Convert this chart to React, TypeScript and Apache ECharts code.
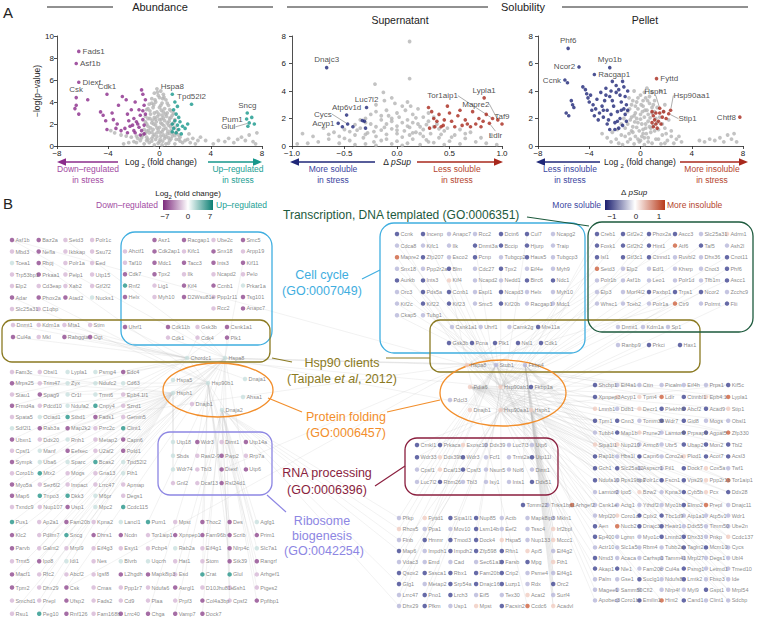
import React, { useEffect, useRef } from "react";
import * as echarts from "echarts";

const F = "Liberation Sans, Arial, Helvetica, sans-serif";

// ---------------- Panel A data ----------------
const abundanceGray: number[][] = [
  [-0.2,5.2],[0.1,5.0],[-0.4,4.8],[0.3,4.7],[0.0,4.4],[-0.6,4.3],[0.5,4.2],[-0.3,4.0],[0.2,3.9],[-0.8,3.8],[0.7,3.7],[-0.5,3.5],[0.0,3.5],[0.4,3.4],[-1.0,3.3],[0.9,3.2],[-0.2,3.1],[0.6,3.0],[-0.7,2.9],[0.2,2.8],[1.0,2.8],[-0.4,2.6],[0.8,2.5],[-0.9,2.5],[0.0,2.4],[0.4,2.3],[-1.1,2.2],[-0.6,2.1],[1.1,2.1],[0.2,2.0],[-0.3,1.9],[0.7,1.9],[-0.9,1.8],[0.0,1.7],[1.2,1.7],[0.5,1.6],[-0.5,1.5],[-1.2,1.5],[0.9,1.4],[0.2,1.3],[-0.8,1.2],[-0.2,1.2],[1.3,1.2],[0.6,1.1],[-1.3,1.0],[-0.5,0.9],[0.1,0.9],[1.0,0.9],[1.6,0.8],[-1.0,0.8],[-1.7,0.7],[0.4,0.7],[-0.3,0.6],[1.3,0.6],[2.0,0.5],[-1.5,0.5],[0.8,0.5],[-2.0,0.4],[0.0,0.4],[-0.8,0.3],[1.8,0.3],[2.4,0.3],[-2.4,0.3],[0.5,0.2],[-1.2,0.2],[1.2,0.2],[-0.4,0.1],[0.2,0.1],[2.8,0.2],[-2.8,0.2],[3.0,0.5],
  [-0.1,4.6],[0.35,4.45],[-0.45,3.75],[0.15,3.25],[-0.75,3.2],[0.55,2.7],[-0.15,2.7],[0.3,2.55],[-0.55,2.35],[0.75,2.25],[-0.25,2.2],[0.95,1.95],[-0.7,1.65],[0.35,1.85],[-0.1,1.45],[0.65,1.35],[-1.0,1.35],[1.05,1.15],[-0.4,1.05],[0.3,1.0],[-0.9,0.6],[0.7,0.75],[1.5,1.0],[-1.4,0.75],[0.05,0.6],[-0.6,0.45],
  [-0.15,4.9],[0.25,4.3],[-0.35,4.2],[0.6,3.9],[-0.6,3.9],[0.1,3.7],[-0.9,3.4],[0.8,3.3],[0.3,3.1],[-0.4,3.0],[1.1,3.0],[-1.1,2.7],[0.45,2.9],[-0.05,2.9],[0.9,2.6],[-0.75,2.5],[0.15,2.45],[-0.3,2.45],[1.2,2.4],[0.6,2.1],[-0.45,2.0],[-1.0,2.0],[0.1,2.1],[0.85,1.75],[-0.2,1.65],[0.3,1.5],[1.4,1.45],[-0.85,1.45],[0.05,1.2],[-0.6,1.25],[0.8,1.15],[-1.1,1.15],[1.2,0.95],[-0.2,0.85],[0.5,0.85],[-1.4,0.95],[0.9,0.65],[-0.6,0.7],[0.25,0.45],[1.6,0.45],[-1.0,0.5],[-1.8,0.3],[0.7,0.25],[-0.1,0.25],[1.5,0.6],[2.2,0.6],
  [-3.5,1.2],[-3.0,1.0],[-2.6,0.9],[-2.2,0.8],[-1.8,0.9],[-3.8,1.4],
  [2.3,1.1],[2.6,0.7],[3.2,0.8],[3.6,0.5],[4.2,0.2],[4.6,0.5],[5.1,0.4],[5.4,0.7],[5.8,0.3],[6.1,0.6],[6.4,0.8],[6.7,0.5],[7.0,1.0],[7.3,0.4],[7.6,1.2],[7.5,0.2]
];
const abundanceDown: number[][] = [
  [-6.5,3.7],[-6.6,3.4],[-6.3,2.9],[-5.6,4.2],[-4.6,3.1],[-4.4,2.8],[-4.2,2.3],[-4.1,1.5],[-3.7,3.0],[-3.6,2.4],[-3.3,2.0],[-3.2,3.7],[-2.9,4.5],[-2.6,4.2],[-2.5,2.9],[-2.2,3.3],[-2.0,2.5],[-1.9,4.0],[-1.6,3.3],[-1.4,5.1],[-1.3,4.7],[-1.2,3.7],[-1.5,2.8],[-1.8,2.2],[-2.3,1.8],[-2.7,1.6],[-3.0,1.4],[-1.3,2.4],[-1.6,1.7],[-2.0,1.4],[-1.2,1.9],[-1.4,1.4],[-2.4,2.3],[-1.1,2.9],[-1.7,2.0],[-2.1,1.9],[-1.9,1.2],[-1.2,1.1],[-1.5,1.0],[-2.5,1.2],[-3.4,1.6],[-1.1,4.2],[-1.3,3.2]
];
const abundanceDownLabeled: [string, number, number][] = [
  ["Fads1",-6.3,8.6],["Asf1b",-6.5,7.5],["Diexf",-6.3,5.8],["Csk",-6.5,4.4],["Cdk1",-4.1,4.7]
];
const abundanceUp: number[][] = [
  [1.1,3.3],[1.3,2.9],[1.5,2.6],[1.2,2.3],[1.6,2.2],[1.0,2.0],[1.4,1.9],[1.8,1.8],[1.1,1.6],[1.5,1.5],[2.0,1.6],[1.3,1.2],[1.7,1.1],[1.2,4.0],[1.4,3.6],[2.2,2.0],[1.0,1.3],[7.2,2.6],[6.9,1.8],[7.4,2.0]
];
const abundanceUpLabeled: [string, number, number][] = [
  ["Hspa8",1.0,4.7],["Tpd52l2",2.5,3.8],["Sncg",6.85,3.0],["Pum1",6.8,2.45],["Glul",7.0,2.1]
];

const supernatantGray: number[][] = [
  [0.12,7.6],[0.12,4.9],[-0.21,4.5],[-0.13,3.9],[-0.05,3.5],[0.1,3.2],[-0.2,3.0],[0.05,2.9],[0.2,2.7],[-0.1,2.6],[0.0,2.4],[0.15,2.3],[-0.25,2.3],[0.25,2.1],[-0.05,2.0],[0.1,1.9],[-0.15,1.9],[0.3,1.8],[0.05,1.7],[-0.3,1.7],[-0.1,1.6],[0.2,1.6],[0.0,1.45],[-0.2,1.4],[0.12,1.35],[0.35,1.4],[-0.35,1.3],[-0.05,1.25],[0.25,1.2],[-0.15,1.15],[0.07,1.1],[0.45,1.1],[-0.45,1.05],[0.18,1.0],[-0.28,0.95],[0.0,0.9],[0.32,0.9],[-0.1,0.85],[0.12,0.8],[-0.4,0.8],[0.55,0.8],[0.25,0.7],[-0.2,0.7],[-0.55,0.7],[0.05,0.65],[0.4,0.6],[-0.32,0.6],[0.65,0.55],[-0.65,0.5],[0.15,0.5],[-0.1,0.5],[0.28,0.45],[-0.45,0.4],[0.5,0.35],[0.0,0.35],[-0.22,0.3],[0.75,0.3],[-0.75,0.3],[0.35,0.25],[-0.55,0.2],[0.1,0.2],[0.6,0.15],[-0.3,0.15],[0.85,0.2],[-0.85,0.2],[0.95,0.1],[-0.95,0.15],[-0.6,1.0],[0.6,1.2],[-0.7,1.3],[0.7,1.0],[-0.8,0.7],[0.8,0.6],[-0.9,0.9],[0.9,0.8],[-0.15,2.2],[0.08,2.6],[-0.3,2.0],[0.22,1.4],[-0.05,1.8],[0.38,1.6],[-0.4,1.55],[0.15,0.95],[-0.22,1.05],[0.42,0.85],[-0.05,0.15],[0.22,0.1],[-0.4,0.1],[0.48,1.3],[-0.5,1.2],[-0.02,3.1],[0.3,2.4],[-0.12,3.3],
  [-0.08,2.2],[0.18,2.05],[-0.25,1.6],[0.28,1.55],[-0.12,1.35],[0.4,1.25],[-0.38,1.15],[0.1,1.45],[0.0,1.15],[-0.3,0.85],[0.22,0.9],[0.52,0.65],[-0.5,0.55],[-0.15,0.4],[0.3,0.3],[0.65,0.9],[-0.65,0.85],[0.05,0.05],[-0.2,0.05],[0.45,0.1],[0.15,1.7],[-0.2,2.5],[0.35,2.1],[-0.35,1.9],[0.02,2.1],[0.13,2.9]
];
const supernatantMore: number[][] = [
  [-0.52,1.4],[-0.42,1.4],[-0.33,1.85],[-0.31,1.8],[-0.3,1.3]
];
const supernatantMoreLabeled: [string, number, number][] = [
  ["Dnajc3",-0.67,5.7],["Luc7l2",-0.29,2.8],["Atp6v1d",-0.48,2.25],["Cycs",-0.47,1.6],["Acyp1",-0.56,1.65]
];
const supernatantLess: number[][] = [
  [0.3,2.8],[0.33,2.5],[0.35,2.0],[0.38,1.8],[0.4,2.3],[0.42,1.4],[0.45,1.9],[0.48,2.9],[0.5,2.4],[0.52,1.8],[0.55,1.4],[0.58,2.2],[0.6,2.6],[0.62,1.5],[0.65,1.9],[0.7,1.4],[0.72,2.5],[0.75,1.6],[0.78,2.0],[0.8,1.4],[0.82,1.8],[0.85,2.3],[0.31,1.3],[0.36,1.4],[0.44,1.5],[0.67,1.6]
];
const supernatantLessLabeled: [string, number, number][] = [
  ["Lypla1",0.83,3.5],["Tor1aip1",0.91,2.0],["Mapre2",0.96,1.9],["Taf9",1.0,1.6],["Ldlr",0.88,1.65]
];

const pelletGray: number[][] = [
  [0.5,4.2],[-0.5,4.0],[0.9,3.9],[0.0,3.7],[-0.9,3.5],[0.4,3.5],[1.1,3.3],[-0.3,3.2],[0.7,3.1],[-0.7,3.0],[0.2,2.9],[1.3,2.8],[-0.2,2.7],[0.5,2.6],[-1.0,2.5],[0.9,2.4],[0.0,2.3],[-0.5,2.2],[0.3,2.1],[1.2,2.0],[-0.8,1.9],[0.6,1.8],[-0.2,1.7],[0.1,1.6],[1.0,1.5],[-0.6,1.4],[-1.2,1.3],[0.4,1.3],[1.4,1.2],[-0.1,1.1],[0.8,1.0],[-0.9,0.9],[0.2,0.9],[1.7,0.8],[-1.5,0.8],[-0.4,0.7],[0.6,0.6],[-1.9,0.5],[1.2,0.5],[2.1,0.4],[0.0,0.4],[-1.0,0.3],[-2.3,0.3],[0.9,0.2],[2.6,0.2],[-0.5,0.15],[0.3,0.1],[1.6,0.15],[-1.4,0.1],[2.0,0.9],[2.4,0.7],[2.8,0.5],[3.2,0.3],[-2.6,0.6],[-3.0,0.9],[-2.2,1.0],[-1.8,1.2],[-1.5,1.6],[-1.3,2.0],[0.7,3.6],[0.2,3.3],[-0.4,2.9],[0.9,2.8],[0.6,2.3],[-0.3,2.0],[0.8,1.3],[-0.7,1.1],[0.3,0.6],[-0.2,0.5],[1.5,2.1],[1.7,1.6],[1.9,1.3],[2.2,1.9],[1.8,2.5],[4.6,0.4],[5.0,0.3],[5.4,0.5],[5.8,0.4],[6.2,0.6],[6.5,0.3],[6.8,0.8],[7.1,0.5],[7.3,0.9],[7.5,0.3],[1.6,4.0],[1.9,3.0],[2.4,1.1],[3.0,0.7],
  [0.3,3.9],[-0.2,3.5],[0.55,3.3],[-0.6,3.3],[1.0,3.0],[0.05,3.0],[-0.85,2.7],[0.35,2.6],[1.1,2.5],[-0.4,2.4],[0.15,2.5],[0.75,2.05],[-0.7,2.1],[0.0,1.95],[1.3,1.7],[-0.45,1.75],[0.4,1.6],[-1.0,1.6],[0.7,1.4],[-0.3,1.35],[0.2,1.2],[1.1,1.1],[-0.6,1.0],[0.45,0.9],[-1.2,0.7],[0.1,0.7],[1.4,0.5],[-0.8,0.5],[0.6,0.3],[-0.1,0.3],[1.9,0.2],[-1.7,0.2]
];
const pelletLess: number[][] = [
  [-5.7,4.6],[-5.4,3.3],[-5.3,3.0],[-5.2,2.8],[-5.8,2.4],[-5.6,2.2],[-4.5,4.3],[-4.3,4.1],[-4.2,3.8],[-4.1,3.5],[-4.0,3.2],[-3.9,3.7],[-3.7,3.0],[-3.5,2.7],[-3.4,3.4],[-3.2,2.4],[-3.1,3.9],[-3.0,2.9],[-2.9,2.1],[-2.8,3.3],[-2.7,4.2],[-2.6,2.6],[-2.5,1.9],[-2.4,3.6],[-2.3,2.3],[-2.2,4.7],[-2.1,2.9],[-2.0,1.7],[-1.9,3.9],[-1.8,2.5],[-1.7,4.1],[-1.6,2.0],[-1.5,3.2],[-1.4,4.7],[-1.3,2.7],[-1.2,3.6],[-1.1,1.8],[-1.0,4.0],[-1.4,1.5],[-1.7,1.3],[-2.0,1.2],[-1.2,2.3],[-1.6,3.7],[-2.6,1.6],[-3.3,1.9],[-2.2,3.3],[-1.9,4.4],[-3.6,2.2],[-2.9,2.6],[-2.4,1.2],[-1.1,3.0],[-1.5,2.6],[-1.8,1.8],[-2.3,4.0],[-3.8,2.6],[-1.3,4.3],[-1.0,2.6],[-2.7,3.7]
];
const pelletLessLabeled: [string, number, number][] = [
  ["Phf6",-5.65,7.1],["Ncor2",-4.8,5.75],["Ccnk",-5.9,4.8],["Myo1b",-2.4,5.7],["Racgap1",-3.6,5.2]
];
const pelletMore: number[][] = [
  [0.9,2.5],[1.0,2.2],[1.2,2.4],[1.5,2.4],[1.7,2.1],[1.1,1.9],[1.4,1.8],[0.9,1.7],[1.2,1.6],[1.6,1.6],[1.0,1.4],[1.3,1.3],[1.8,2.5],[2.0,2.0]
];
const pelletMoreLabeled: [string, number, number][] = [
  ["Fyttd",1.25,4.9],["Hsph1",1.5,2.75],["Hsp90aa1",2.35,2.6],["Stip1",2.2,2.35],["Chtf8",7.75,2.1]
];

// ---------------- Panel B data (names + colour codes) ----------------
const abundanceCodeValue: Record<string, number> = { D: -4.2, d: -2.2, g: 2.0, T: 5.0 };
const solubilityCodeValue: Record<string, number> = { B: -0.62, b: -0.33, r: 0.3, R: 0.68 };

const leftTopNames = [
  ["Asf1b","Baz2a","Setd3","Polr1c"],["Mbd3","Nefla","Ikbkap","Ssu72"],["Tcea1","Rbpj","Polr1a","Eed"],
  ["Trp53bp1","Prkaa1","Pelp1","Utp15"],["Elp2","Cd3eap","Xab2","Gtf2f2"],["Adar","Phox2a","Atad2","Nucks1"],["Slc25a31","C1qbp"]
];
const leftTopCodes = ["DDdd","dDdd","gDdd","dDdd","dddd","DDDg","dd"];
const cellCycleLNames = [
  ["","Asz1","Racgap1","Ube2c","Smc5"],["Ahctf1","Cdk2ap1","Kifc1","Snx18","Arpp19"],["Taf10","Mdc1","Tacc3","Ints3","Kif11"],
  ["Cdk7","Tpx2","Ilk","Ncapd2","Pelo"],["Rnf2","Lig1","Kif4","Ccnb1","Prkar1a"],["Helx","Myh10","D2Wsu81e","Ppp1r11","Tsg101"],["","","","Rcc2","Anapc7"]
];
const cellCycleLCodes = [" DDdD","dDdDd","dDDDD","DDddd","TdDDg","DdDdD","   dD"];
const uhrfLNames = [["Uhrf1"]];
const uhrfLCodes = ["D"];
const cdkLNames = [["Cdk11b","Gsk3b","Csnk1a1"],["Cdk1","Cdk4","Plk1"]];
const cdkLCodes = ["DdD","ddD"];
const oliveLNames = [["Dnmt1","Kdm1a","Mta1","Stim"],["Cul4a","Mkl","Rabggta","Ogt"]];
const oliveLCodes = ["dddd","DdDD"];
const hspLNames = [["Chordc1","Hspa8"]];
const hspLCodes = ["gg"];
const foldLNames = [["Hspa5","Hsp90b1","Dnaja1","Hsph1","Ahsa1","Dnajb1","Dnaja2"]];
const foldLCodes = ["gggggdg"];
const leftBigNames = [
  ["Fam3c","Obsl1","Lypla1","Psmg4","Edc4"],["Mrps25","Trim47","Zyx","Ndufc2","Cd63"],["Stau1","Spag9","Cr1l","Trmt6","Epb4.1l1"],
  ["Frmd4a","Pdcd10","Ndufa2","Cnpy4","Szrd1"],["Spata5","Ociad1","Stbd1","Fads1","Gemin5"],["Sdf2l1","Rab3a","Map2k2","Prrc2c","Clint1"],
  ["Ubxn1","Ddx20","Rnh1","Metap2","Capn6"],["Cpsf1","Manf","Eefsec","U2af2","Pold1"],["Sympk","Uba6","Sparc","Bcas2","Tpd52l2"],
  ["Coro1b","Mtx2","Mogs","Gna13","Fth1"],["Myo5a","Sez6l2","Impact","Lrrc47","Apmap"],["Map6","Tnpo3","Dkk3","M6pr","Degs1"],
  ["Txndc9","Nup107","Usp1","Mpc2","Ccdc115"]
];
const leftBigCodes = ["ddggD","Ddggg","dDggd","DdgTd","dgTDd","gDDdT","DdgdD","dgDdD","DggTg","dTddg","Ddddd","DTTgd","ddDgT"];
const riboNames = [["Utp18","Wdr3","Dimt1","Utp14a"],["Sbds","Rasl2-9","Pwp2","Rrp7a"],["Wdr74","Tbl3","Diexf","Utp6"],["Gnl2","Dcaf13","Rsl24d1"]];
const riboCodes = ["gDdD","gdDd","gdDD","ddD"];
const leftLowerNames = [
  ["Pus1","Ap2a1","Fam20b","Kpna2","Lancl1","Pum1","Mpst","Thoc2","Des","Agfg1"],
  ["Klc2","Pdlim7","Sncg","Dhrs1","Ncdn","Tor1aip1","Xpnpep1","Fam96b","Scrib","Prim1"],
  ["Parvb","Galnt2","Mrpl9","Eif4g3","Esyt1","Pcbp4","Rab2a","Eif4g1","Nlrp4c","Slc7a1"],
  ["Trmt5","Ipo8","Idi1","Nes","Blvrb","Uqcrh","Hat1","Stom","Stk39","Rangrf"],
  ["Macf1","Rfc2","Abcf2","Igsf8","L2hgdh","Mapk8ip3","Esd","Crat","Glul","Arhgef1"],
  ["Tpm2","Dhx29","Csk","Cmas","Ppp1r7","Ndufa6","Asrgl1","D10Jhu81e","Ssh1","Ptges2"],
  ["Smchd1","Prepl","Ufsp2","Fads2","Cd9","Plaa","Prpf3","Col4a3bp","Cpsf2","Ppfibp1"],
  ["Rsu1","Peg10","Rnf126","Fam168b","Lrrc40","Chga","Vamp7","Dock7"]
];
const leftLowerCodes = ["TdDdgTdDDg","DdTDDdDDDD","DdddddgdDg","dDgdggddDD","DdddDDdTTd","DdDdddDddd","ddDddddDdD","dTDdDDDD"];

const cellCycleRNames = [
  ["Ccnk","Incenp","Anapc7","Rcc2","Dctn6","Cul7","Ncapg2"],["Cdca8","Kifc1","Ilk","Dnmt3a","Bccip","Hjurp","Traip"],
  ["Mapre2","Zfp207","Esco2","Pcnp","Tubgcp2","Haus5","Tubgcp3"],["Snx18","Ppp2r2a","Blm","Cdc27","Tpx2","Eif4e","Myh9"],
  ["Aurkb","Ints3","Kif4","Ncapd2","Nedd1","Birc6","Ndc1"],["Orc3","Pds5a","Ccnb1","Espl1","Ncapd3","Helx","Myh10"],
  ["Kif2c","Kif22","Kif23","Smc5","Kif20b","Racgap1","Mdc1"],["Ckap5","Tubg1"]
];
const cellCycleRCodes = ["BBbbBBb","bbbBBBb","RBbBbBb","bbBbBbb","BBrbbBB","bBBbBbb","bBBbBbb","bb"];
const oliveR1Names = [["Csnk1a1","Uhrf1","Camk2g","Mre11a"]];
const oliveR1Codes = ["bbbB"];
const oliveR2Names = [["Gsk3b","Pcna","Plk1","Nsl1","Cdk1"]];
const oliveR2Codes = ["BBBBB"];
const transNames = [
  ["Creb1","Gtf2e2","Phox2a","Ascc3","Slc25a31","Adrm1"],["Foxk1","Gtf2h2","Hint1","Atf6","Taf5","Ash2l"],
  ["Isl1","Gtf3c1","Ctnnd1","Ruvbl2","Dhx36","Cnot11"],["Setd3","Elp2","Edf1","Khsrp","Cnot3","Phf6"],
  ["Polr1b","Asf1b","Leo1","Polr1d","Tfb1m","Ascc1"],["Elp3","Morf4l2","Paxbp1","Trps1","Ncor2","Zcchc9"],
  ["Whsc1","Tceb2","Polr1a","Ctr9","Polrmt","Flii"]
];
const transCodes = ["BBBBbr","BBBRBb","BBBbbB","RbbbbB","bbbbbB","bbBBBb","bbbRbB"];
const oliveR3Names = [["Dnmt1","Kdm1a","Sp1"]];
const oliveR3Codes = ["bbb"];
const oliveR4Names = [["Ranbp9","Prkci","Hax1"]];
const oliveR4Codes = ["bBB"];
const oliveR5Names = [["Hspa8","Stub1","Fkbp4"]];
const oliveR5Codes = ["rbb"];
const foldRNames = [["Pdia6","Hsp90ab1","Fkbp1a"],["Dnajb1","Hsp90aa1","Hsph1"]];
const foldRCodes = ["rrB","rrr"];
const pdclNames = [["Pdcl3"]];
const pdclCodes = ["b"];
const rnaNames = [
  ["Crnkl1","Prkaca","Exosc10","Ddx39","Luc7l3","Utp6"],["Wdr33","Ddx39b","Wdr3","Fcf1","Trmt2a","Utp11l"],
  ["Cpsf1","Dcaf13","Cpsf3","Nsun5","Nol6","Dimt1"],["Luc7l2","Rbm26","Tbl3","Isy1","Ints1","Ddx51"]
];
const rnaCodes = ["BBrbbb","BrBbbB","brBbbb","bBbbbB"];
const rightBigANames = [
  ["Shcbp1","Eif4a1","Cttn","Picalm","Eif4h","Prps1","Kif5c"],["Xpnpep3","Acyp1","Tpm4","Ldlr","Ctnnbl1","Epb4.1","Lypla1"],
  ["Lmnb1","Ddb1","Decr1","Plekhh3","Abcf2","Acad9","Stip1"],["Tpm1","Cnn3","Tomm34","Wdr7","Gid8","Mogs","Obsl1"],
  ["Tubb4","Map1b","Prune2","Lamtor5","Prpsap1","Agpat5","Zfp330"],["Sipa1l1","Nup210","Armc8","Ubr5","Ubap2","Mon2","Tbl2"],
  ["Rap1b","Hbs1l","Capn6","Coro2a","Plod1","Acot7","Acsl3"],["Gch1","Slc25a12","Aspscr1","Ftl1","Dock7","Cox5a","Twf1"],
  ["Ndufa10","Rps19bp1","Polr1c","Fscn1","Vps29","Ppp2r1b","Tor1aip1"],["Lamtor2","Ipo5","Bzw2","Kpna3","Cyb5b","Pcx","Ddx28"]
];
const rightBigACodes = ["BbbbbbB","BrrRBrR","rbrBBBr","BBbBBbb","bBrbBBR","rrbbBBB","BbBbrBB","BBbbBrb","BbbBBrR","bbrbBrB"];
const rightBigBNames = [
  ["Csnk1e","Actg1","Ythdf2","Myo1b","Elmo2","Prepl","Dnajc11"],["Mrpl20","Coro1c","Cplx2","Tbc1d9","Atp1a1","Atp5v1","Wdr1"],
  ["Aen","Nucb2","Dnajc3","Heatr1","Ddx55","Timm50","Ube2n"],["Ep400","Lgmn","Myo1c","Lmnb2","Dhx33","Pnkp","Ccdc137"],
  ["Actr10","Slc1a5","Rbm4","Tubb2a","Tagln2","Mcm10","Cycs"],["Nmd3","Acaca","Carhsp1","Tamm41","Mrpl27","Degs1","Ubl4"],
  ["Akap1","Nle1","Fam20c","Cul4a","Psmg1","Letmd1","Tmed10"],["Palm","Gse1","Suclg1","Ndufs8","Lmtk2","Fbxo3","Ide"],
  ["Magee1","Samm50","Cfl2","Nlrp4f","Myl9","Gspt1","Mrpl54"],["Apobec3","Coro1b","Emilin1","Hint2","Cand1","Clint1","Sdcbp"]
];
const rightBigBCodes = ["bbbbBRb","brBBbbb","BRBBbbb","BbbBBbr","bbbbBBb","Bbbbbbb","BBbbBbb","bbBbBbb","bbbbbBb","bbBRBbb"];
const tommNames = [["Tomm22","Tnks1bp1","Arhgef2"]];
const tommCodes = ["BbR"];
const lowerMidNames = [
  ["Pfkp","Fyttd1","Sipa1l1","Nup85","Actb","Mapk8ip3","Mkln1"],["Rhox5","Ppa1","Mov10","Lsm14b","Eef2","Tssc4","Irf2bpl"],
  ["Flnb","Hmmr","Tmod3","Dock4","Hspa5","Nup133","Mccc1"],["Map6","Impdh1","Impdh2","Zfp598","Rftn1","Api5","Eif4g2"],
  ["Vdac3","Emd","Cad","Sec61a1","Farsb","Mpg","Fth1"],["Qsox2","Sssca1","Rbx1","Fam20b","Crip2","Psme4","Eif4g1"],
  ["Glg1","Metap2","Srp54a","Dnajc16","Luzp1","Rdx","Orc2"],["Lrrc47","Pno1","Lrch3","Eif5","Tex30","Acat2","Surf4"],
  ["Dhx29","Pfkm","Usp1","Mpst","Pacsin2","Ccdc6","Acadvl"]
];
const lowerMidCodes = ["brBBbbb","rbbBbbr","bBBBrbr","BbBBBrb","bbbbBBr","BBBBBbb","BbBBBbB","bBBbbrb","bBbrBRr"];

// interaction edges (hub -> partners)
const hubPartners: Record<string, string[]> = {
  "L:Hspa8": ["L:Asf1b","L:Setd3","L:Cdk1","L:Plk1","L:Gsk3b","L:Fads1","L:Capn6","L:Sncg","L:Pum1","L:Glul","L:Tpm2","L:Macf1","L:Dock7","L:Chga","L:Utp6","L:Diexf","L:Map6","L:Edc4","L:Clint1","L:Kif11","R:Hsp90aa1","R:Hspa8","R:Stub1","L:Pus1","L:Rsu1","L:Csk"],
  "L:Chordc1": ["L:Dnmt1","L:Cul4a","L:Mta1","L:Kdm1a","L:Ogt","L:Rabggta","L:Uhrf1","L:Csnk1a1","L:Cdk4","L:Hsp90b1","L:Dnaja1","L:Hspa5","R:Hsp90ab1","R:Fkbp4","L:Stau1","L:Frmd4a","L:Ubxn1","L:Sympk","L:Myo5a"],
  "L:Hsp90b1": ["L:Adar","L:Rbpj","L:Phox2a","L:Mrps25","L:Spag9","L:Rab3a","L:Map2k2","L:Pold1","L:Wdr3","L:Utp14a","L:Rsl24d1","L:Klc2","L:Thoc2","L:Des","L:Scrib","L:Prim1","L:Rangrf","L:Stk39","L:Crat"],
  "L:Hsph1": ["L:Fam3c","L:Trim47","L:Cr1l","L:Pdcd10","L:Ociad1","L:Ddx20","L:Manf","L:Uba6","L:Mtx2","L:Sez6l2","L:Tnpo3","L:Nup107","L:Ap2a1","L:Pdlim7","L:Galnt2","L:Ipo8","L:Rfc2","L:Dhx29","L:Prepl","L:Peg10","L:Gnl2","L:Sbds","L:Wdr74"],
  "L:Dnaja2": ["L:Esd","L:Crat","L:Ptges2","L:Ppfibp1","L:Agfg1","L:Slc7a1","L:Arhgef1","L:Prim1","L:Vamp7","L:Cpsf2","L:Ssh1","R:Pfkp","R:Flnb","R:Map6","R:Glg1","R:Dhx29","R:Rhox5"],
  "R:Hsp90aa1": ["R:Ccnk","R:Cul7","R:Dnmt3a","R:Creb1","R:Phox2a","R:Isl1","R:Phf6","R:Ncor2","R:Flii","R:Prkci","R:Hax1","R:Crnkl1","R:Wdr33","R:Ddx51","R:Shcbp1","R:Kif5c","R:Tpm1","R:Rap1b","R:Gch1","R:Ddx28","R:Qsox2","R:Glg1","R:Pno1","R:Pfkm","R:Map6","R:Hmmr","R:Aen","R:Nmd3","R:Akap1"],
  "R:Hsp90ab1": ["R:Incenp","R:Aurkb","R:Kif22","R:Kif23","R:Pds5a","R:Ccnb1","R:Tpx2","R:Blm","R:Gtf2e2","R:Foxk1","R:Hint1","R:Ascc3","R:Taf5","R:Cnot11","R:Ascc1","R:Paxbp1","R:Trps1","R:Gsk3b","R:Pcna","R:Plk1","R:Nsl1","R:Cdk1","R:Mre11a","R:Cplx2","R:Ep400","R:Suclg1","R:Cand1","R:Lsm14b","R:Dock4","R:Rftn1"],
  "R:Stub1": ["R:Cdca8","R:Esco2","R:Snx18","R:Orc3","R:Kif2c","R:Ckap5","R:Elp3","R:Whsc1","R:Polr1b","R:Eif4a1","R:Cttn","R:Lmnb1","R:Tubb4","R:Sipa1l1","R:Lamtor2","R:Csnk1e","R:Mrpl20","R:Actr10","R:Palm","R:Magee1","R:Apobec3","R:Pfkp","R:Rhox5","R:Flnb","R:Vdac3","R:Lrrc47","R:Dhx29","R:Cpsf1","R:Luc7l2"],
  "R:Hspa8": ["R:Ldlr","R:Lypla1","R:Zfp330","R:Tor1aip1","R:Prepl","R:Hint2","R:Ccdc6","R:Mapre2","R:Atf6","R:Setd3","R:Ctr9","R:Kif4","R:Nucb2","L:Fads1","L:Asf1b","L:Diexf","L:Csk"],
  "R:Fkbp4": ["R:Tomm22","R:Arhgef2","R:Tnks1bp1","R:Mkln1","R:Irf2bpl","R:Mccc1","R:Eif4g2","R:Fth1","R:Eif4g1","R:Orc2","R:Surf4","R:Acadvl","R:Sdcbp","R:Mrpl54","R:Ide","R:Tmed10","R:Ubl4","R:Cycs","R:Ccdc137"],
  "R:Pdia6": ["R:Xpnpep3","R:Lmnb1","R:Tpm1","R:Tubb4","R:Sipa1l1","R:Rap1b","R:Gch1","R:Ndufa10","R:Lamtor2","R:Kif5c","R:Lypla1","R:Stip1","R:Obsl1","R:Zfp330","R:Tbl2","R:Acsl3","R:Twf1","R:Tor1aip1","R:Ddx28"],
  "R:Hsph1": ["R:Dnajc11","R:Wdr1","R:Ube2n","R:Ccdc137","R:Cycs","R:Ubl4","R:Tmed10","R:Ide","R:Mrpl54","R:Sdcbp","R:Mkln1","R:Irf2bpl","R:Mccc1","R:Eif4g2","R:Fth1","R:Acadvl","R:Surf4","R:Orc2","R:Eif4g1"]
};

// ---------------- layout (positions, not data) ----------------
type Layout = { x0: number; y0: number; dx?: number; dy?: number; pts?: number[][] };
const blocks: { side: "L" | "R"; names: string[][]; codes: string[]; layout: Layout }[] = [
  { side: "L", names: leftTopNames, codes: leftTopCodes, layout: { x0: 12, y0: 240, dx: 26.7, dy: 11.5 } },
  { side: "L", names: cellCycleLNames, codes: cellCycleLCodes, layout: { x0: 125, y0: 240, dx: 29.5, dy: 11.4 } },
  { side: "L", names: uhrfLNames, codes: uhrfLCodes, layout: { x0: 125, y0: 327 } },
  { side: "L", names: cdkLNames, codes: cdkLCodes, layout: { x0: 168, y0: 327, dx: 29.5, dy: 10.6 } },
  { side: "L", names: oliveLNames, codes: oliveLCodes, layout: { x0: 13, y0: 325, dx: 25.7, dy: 12 } },
  { side: "L", names: hspLNames, codes: hspLCodes, layout: { x0: 187, y0: 358, dx: 38 } },
  { side: "L", names: foldLNames, codes: foldLCodes, layout: { x0: 0, y0: 0, pts: [[173,380],[208,383],[245,379],[173,393],[243,397],[192,404],[222,410]] } },
  { side: "L", names: leftBigNames, codes: leftBigCodes, layout: { x0: 12, y0: 372, dx: 27.8, dy: 11.25 } },
  { side: "L", names: riboNames, codes: riboCodes, layout: { x0: 173, y0: 442, dx: 24.3, dy: 13.7 } },
  { side: "L", names: leftLowerNames, codes: leftLowerCodes, layout: { x0: 12, y0: 522, dx: 27.2, dy: 13.1 } },
  { side: "R", names: cellCycleRNames, codes: cellCycleRCodes, layout: { x0: 397, y0: 234, dx: 26, dy: 11.6 } },
  { side: "R", names: oliveR1Names, codes: oliveR1Codes, layout: { x0: 452, y0: 327, dx: 28.7 } },
  { side: "R", names: oliveR2Names, codes: oliveR2Codes, layout: { x0: 449, y0: 343, dx: 23 } },
  { side: "R", names: transNames, codes: transCodes, layout: { x0: 597, y0: 234, dx: 26, dy: 11.6 } },
  { side: "R", names: oliveR3Names, codes: oliveR3Codes, layout: { x0: 618, y0: 327, dx: 25 } },
  { side: "R", names: oliveR4Names, codes: oliveR4Codes, layout: { x0: 618, y0: 345, dx: 31 } },
  { side: "R", names: oliveR5Names, codes: oliveR5Codes, layout: { x0: 467, y0: 365, dx: 29 } },
  { side: "R", names: foldRNames, codes: foldRCodes, layout: { x0: 470, y0: 387, dx: 30.5, dy: 23 } },
  { side: "R", names: pdclNames, codes: pdclCodes, layout: { x0: 450, y0: 400 } },
  { side: "R", names: rnaNames, codes: rnaCodes, layout: { x0: 417, y0: 445, dx: 23, dy: 12.3 } },
  { side: "R", names: rightBigANames, codes: rightBigACodes, layout: { x0: 595, y0: 385, dx: 22.2, dy: 11.9 } },
  { side: "R", names: rightBigBNames, codes: rightBigBCodes, layout: { x0: 595, y0: 505, dx: 22.2, dy: 10.6 } },
  { side: "R", names: tommNames, codes: tommCodes, layout: { x0: 523, y0: 505, dx: 24.5 } },
  { side: "R", names: lowerMidNames, codes: lowerMidCodes, layout: { x0: 399, y0: 518, dx: 25.7, dy: 11 } }
];

type Place = { pos: string; off?: number[]; move?: number[] };
const labelPlace: Record<string, Place> = {
  Fads1: { pos: "right", off: [0, -2] }, Asf1b: { pos: "right" }, Diexf: { pos: "right", off: [0, -3] },
  Csk: { pos: "top", off: [-3, -1] }, Cdk1: { pos: "top", off: [0, -1] },
  Hspa8: { pos: "top", off: [8, -2] }, Tpd52l2: { pos: "top", off: [14, -1] }, Sncg: { pos: "top", off: [-10, -2] },
  Pum1: { pos: "left", off: [-1, -1] }, Glul: { pos: "left", move: [-10, 4] },
  Dnajc3: { pos: "top", off: [0, -2] }, Luc7l2: { pos: "top", off: [4, -1] }, Atp6v1d: { pos: "top", off: [0, -2] },
  Cycs: { pos: "left", move: [-12, -10] }, Acyp1: { pos: "left" },
  Lypla1: { pos: "top", off: [3, -2] }, Tor1aip1: { pos: "top", move: [-50, -15] }, Mapre2: { pos: "top", move: [-22, -8] },
  Taf9: { pos: "top", off: [4, -4] }, Ldlr: { pos: "bottom", move: [6, 4] },
  Phf6: { pos: "top", off: [-2, -1] }, Ncor2: { pos: "left", off: [0, -5] }, Ccnk: { pos: "left", off: [0, -4] },
  Myo1b: { pos: "top", off: [0, -2] }, Racgap1: { pos: "right" }, Fyttd: { pos: "right", off: [0, -5] },
  Hsph1: { pos: "top", move: [-4, -9] }, Hsp90aa1: { pos: "top", move: [21, -7] }, Stip1: { pos: "right", move: [6, 5] },
  Chtf8: { pos: "left", off: [0, -3] }
};

function buildNodes() {
  const left: any[] = [];
  const right: any[] = [];
  const pos: Record<string, number[]> = {};
  blocks.forEach((b) => {
    const lay = b.layout;
    b.names.forEach((row, ri) => {
      row.forEach((name, ci) => {
        if (!name) return;
        const code = b.codes[ri][ci];
        let x: number, y: number;
        if (lay.pts) { x = lay.pts[ci][0]; y = lay.pts[ci][1]; }
        else { x = lay.x0 + ci * (lay.dx || 0); y = lay.y0 + ri * (lay.dy || 0); }
        const v = b.side === "L" ? abundanceCodeValue[code] : solubilityCodeValue[code];
        (b.side === "L" ? left : right).push({ name, value: [x, y, v] });
        const key = b.side + ":" + name;
        if (!pos[key]) pos[key] = [x, y];
      });
    });
  });
  const edges: any[] = [];
  Object.keys(hubPartners).forEach((h) => {
    const a = pos[h];
    if (!a) return;
    hubPartners[h].forEach((p) => {
      const b = pos[p];
      if (b) edges.push({ coords: [a, b] });
    });
  });
  return { left, right, edges };
}

const minus = (s: string) => s.replace("-", "\u2212");

function volcanoAxes(grid: number, xmin: number, xmax: number, xint: number, ymax: number, dec: number, yName?: string, yMargin = 3) {
  const axisLine = { onZero: false, lineStyle: { color: "#222", width: 0.8 } };
  const axisTick = { length: 3, lineStyle: { color: "#222", width: 0.8 } };
  return {
    x: {
      type: "value", gridIndex: grid, min: xmin, max: xmax, interval: xint,
      axisLine, axisTick, splitLine: { show: false },
      axisLabel: { fontSize: 8, color: "#222", fontFamily: F, margin: 3, formatter: (v: number) => minus(v.toFixed(dec)) }
    },
    y: {
      type: "value", gridIndex: grid, min: 0, max: ymax, interval: 2,
      axisLine, axisTick, splitLine: { show: false },
      axisLabel: { fontSize: 8, color: "#222", fontFamily: F, margin: yMargin },
      name: yName || "", nameLocation: "middle", nameGap: 15, nameRotate: 90,
      nameTextStyle: { fontSize: 8.5, color: "#222", fontFamily: F }
    }
  };
}

function colored(points: number[][], labeled: [string, number, number][], color: string, grid: number) {
  const data: any[] = points.map((p) => ({ value: p }));
  labeled.forEach(([n, x, y]) => {
    const pl = labelPlace[n] || { pos: "right" };
    data.push({
      value: [x, y], name: n,
      label: { show: true, position: pl.pos, offset: pl.off || [0, 0], distance: 2, fontSize: 8, color: "#222", fontFamily: F, formatter: "{b}" },
      labelLine: pl.move ? { show: true, lineStyle: { color: "#777", width: 0.6 } } : { show: false }
    });
  });
  return {
    type: "scatter", xAxisIndex: grid, yAxisIndex: grid, symbolSize: 3.6, itemStyle: { color },
    data, silent: true, z: 4, clip: false,
    labelLayout: (p: any) => {
      const pl = labelPlace[p.text];
      return pl && pl.move ? { dx: pl.move[0], dy: pl.move[1] } : {};
    }
  };
}

function gray(points: number[][], grid: number) {
  return { type: "scatter", xAxisIndex: grid, yAxisIndex: grid, symbolSize: 3.8, itemStyle: { color: "#B4B4B4" }, data: points, silent: true, z: 3 };
}

function txt(text: string, x: number, y: number, o: any = {}) {
  return {
    type: "text", silent: true, z: 30,
    style: {
      text, x, y, fill: o.fill || "#222", fontSize: o.size || 8, fontFamily: F,
      fontStyle: o.italic ? "italic" : "normal", align: o.align || "center", verticalAlign: "middle",
      rich: o.rich
    }
  };
}
function line(x1: number, y1: number, x2: number, y2: number, stroke: string, w = 1) {
  return { type: "line", silent: true, z: 25, shape: { x1, y1, x2, y2 }, style: { stroke, lineWidth: w } };
}
function arrow(x1: number, x2: number, y: number, color: string) {
  const d = x2 > x1 ? 1 : -1;
  return [
    line(x1, y, x2 - d * 6, y, color, 1.6),
    { type: "polygon", silent: true, z: 25, shape: { points: [[x2, y], [x2 - d * 9, y - 3.8], [x2 - d * 9, y + 3.8]] }, style: { fill: color } }
  ];
}
function box(x: number, y: number, w: number, h: number, r: number, stroke: string) {
  return { type: "rect", silent: true, z: 5, shape: { x, y, width: w, height: h, r }, style: { fill: "none", stroke, lineWidth: 1.3 } };
}
function ell(cx: number, cy: number, rx: number, ry: number, stroke: string) {
  return { type: "ellipse", silent: true, z: 5, shape: { cx, cy, rx, ry }, style: { fill: "none", stroke, lineWidth: 1.3 } };
}

const C = {
  purple: "#8B2C8B", teal: "#16978B", navy: "#1F2778", red: "#A8281C",
  purpleTxt: "#A24BA2", tealTxt: "#22A094", navyTxt: "#3A45A0", redTxt: "#B4452E",
  green: "#1D5A3D", cyan: "#3FAEE0", olive: "#8B7A22", orange: "#F28E2B", wine: "#8A1E3E", lav: "#8D86E3"
};

function buildOption() {
  const a0 = volcanoAxes(0, -8, 8, 4, 10, 0, "\u2212log(p\u2212value)");
  const a1 = volcanoAxes(1, -1, 1, 0.5, 8, 1, "", 6);
  const a2 = volcanoAxes(2, -8, 8, 4, 8, 0, "", 5);
  const net = buildNodes();
  const sub = { s: { fontSize: 6, verticalAlign: "bottom", lineHeight: 13, fill: "#222" } };
  const ital = (fill: string, size: number) => ({ i: { fontStyle: "italic", fontSize: size, fill, fontFamily: F } });

  const graphic: any[] = [
    txt("A", 3, 12, { size: 15, align: "left" }),
    txt("B", 3, 203, { size: 15, align: "left" }),
    line(47, 7, 113, 7, "#222", 1), txt("Abundance", 160, 7, { size: 11 }), line(218, 7, 273, 7, "#222", 1),
    line(287, 7, 488, 7, "#222", 1), txt("Solubility", 523, 7, { size: 11 }), line(562, 7, 748, 7, "#222", 1),
    txt("Supernatant", 400, 20, { size: 10.5 }), txt("Pellet", 645, 20, { size: 10.5 }),
    txt("Log {s|2} (fold change)", 161, 162, { size: 8.5, rich: sub }),
    txt("\u0394 {i|pSup}", 397, 162, { size: 8.5, rich: ital("#222", 8.5) }),
    txt("Log {s|2} (fold change)", 640, 162, { size: 8.5, rich: sub }),
    ...arrow(118, 57, 162, C.purple), ...arrow(208, 262, 162, C.teal),
    ...arrow(375, 290, 162, C.navy), ...arrow(417, 503, 162, C.red),
    ...arrow(600, 536, 162, C.navy), ...arrow(680, 748, 162, C.red),
    txt("Down\u2013regulated", 88, 169, { fill: C.purpleTxt, size: 8.5 }), txt("in stress", 88, 180, { fill: C.purpleTxt, size: 8.5 }),
    txt("Up\u2013regulated", 238, 169, { fill: C.tealTxt, size: 8.5 }), txt("in stress", 238, 180, { fill: C.tealTxt, size: 8.5 }),
    txt("More soluble", 333, 169, { fill: C.navyTxt, size: 8.5 }), txt("in stress", 333, 180, { fill: C.navyTxt, size: 8.5 }),
    txt("Less soluble", 457, 169, { fill: C.redTxt, size: 8.5 }), txt("in stress", 457, 180, { fill: C.redTxt, size: 8.5 }),
    txt("Less insoluble", 570, 169, { fill: C.navyTxt, size: 8.5 }), txt("in stress", 570, 180, { fill: C.navyTxt, size: 8.5 }),
    txt("More insoluble", 712, 169, { fill: C.redTxt, size: 8.5 }), txt("in stress", 712, 180, { fill: C.redTxt, size: 8.5 }),
    // colour bars
    txt("Log{s|2} (fold change)", 188, 193, { size: 8, rich: sub }),
    { type: "rect", silent: true, z: 20, shape: { x: 163, y: 200, width: 50, height: 10 },
      style: { fill: new echarts.graphic.LinearGradient(0, 0, 1, 0, [{ offset: 0, color: "#7D2A7D" }, { offset: 0.5, color: "#FFFFFF" }, { offset: 1, color: "#0B7F73" }]) } },
    txt("Down\u2013regulated", 158, 205, { fill: C.purpleTxt, size: 8.5, align: "right" }),
    txt("Up\u2013regulated", 216, 205, { fill: C.tealTxt, size: 8.5, align: "left" }),
    txt("\u22127", 165, 216), txt("0", 188, 216), txt("7", 210, 216),
    txt("\u0394 {i|pSup}", 634, 192, { size: 8, rich: ital("#222", 8) }),
    { type: "rect", silent: true, z: 20, shape: { x: 605, y: 200, width: 60, height: 10 },
      style: { fill: new echarts.graphic.LinearGradient(0, 0, 1, 0, [{ offset: 0, color: "#1B1F70" }, { offset: 0.5, color: "#FFFFFF" }, { offset: 1, color: "#B83A1A" }]) } },
    txt("More soluble", 601, 205, { fill: C.navyTxt, size: 8.5, align: "right" }),
    txt("More insoluble", 667, 205, { fill: C.redTxt, size: 8.5, align: "left" }),
    txt("\u22121", 612, 216), txt("0", 636, 216), txt("1", 659, 216),
    // groups
    box(121, 232, 151, 113, 14, C.cyan), box(380, 223, 205, 130, 14, C.cyan),
    box(2, 320, 268, 42, 10, C.olive), box(430, 320, 270, 52, 10, C.olive),
    box(588, 222, 165, 110, 14, C.green),
    ell(218, 390, 55, 27, C.orange), ell(503, 393, 63, 33, C.orange),
    box(405, 438, 153, 57, 12, C.wine), box(158, 432, 114, 63, 12, C.lav),
    txt("Transcription, DNA templated (GO:0006351)", 283, 215, { fill: C.green, size: 12, align: "left" }),
    line(527, 217, 589, 226, C.green, 1.2),
    txt("Cell cycle", 322, 275, { fill: C.cyan, size: 12.5 }), txt("(GO:0007049)", 322, 291, { fill: C.cyan, size: 12.5 }),
    line(362, 279, 380, 270, C.cyan, 1.2),
    txt("Hsp90 clients", 342, 363, { fill: C.olive, size: 12.5 }),
    txt("(Taipale {i|et al}, 2012)", 342, 379, { fill: C.olive, size: 12.5, rich: ital(C.olive, 12.5) }),
    line(272, 358, 292, 362, C.olive, 1.2), line(386, 358, 430, 358, C.olive, 1.2),
    txt("Protein folding", 346, 417, { fill: C.orange, size: 12.5 }), txt("(GO:0006457)", 346, 433, { fill: C.orange, size: 12.5 }),
    line(268, 398, 302, 412, C.orange, 1.2), line(387, 412, 440, 400, C.orange, 1.2),
    txt("RNA processing", 327, 473, { fill: C.wine, size: 12.5 }), txt("(GO:0006396)", 327, 490, { fill: C.wine, size: 12.5 }),
    line(375, 486, 405, 466, C.wine, 1.2),
    txt("Ribosome", 322, 521, { fill: C.lav, size: 12.5 }), txt("biogenesis", 322, 536, { fill: C.lav, size: 12.5 }),
    txt("(GO:0042254)", 324, 551, { fill: C.lav, size: 12.5 }),
    line(267, 495, 286, 512, C.lav, 1.2)
  ];

  const nodeLabel = { show: true, position: "right", distance: 1.2, formatter: "{b}", fontSize: 5.5, color: "#6A6A6A", fontFamily: F };

  return {
    animation: false,
    backgroundColor: "#fff",
    textStyle: { fontFamily: F },
    grid: [
      { left: 57, top: 36, width: 205, height: 110 },
      { left: 292, top: 36, width: 210, height: 110 },
      { left: 538, top: 36, width: 205, height: 110 },
      { left: 0, top: 0, width: 757, height: 621 }
    ],
    xAxis: [a0.x, a1.x, a2.x, { type: "value", gridIndex: 3, min: 0, max: 757, show: false }],
    yAxis: [a0.y, a1.y, a2.y, { type: "value", gridIndex: 3, min: 0, max: 621, inverse: true, show: false }],
    visualMap: [
      { type: "continuous", show: false, seriesIndex: 10, dimension: 2, min: -7, max: 7,
        inRange: { color: ["#5E1A5E", "#7D2E7E", "#D4B3D5", "#EFEFEF", "#C2DEDB", "#2A9A8E", "#087468"] } },
      { type: "continuous", show: false, seriesIndex: 11, dimension: 2, min: -1, max: 1,
        inRange: { color: ["#141850", "#2D3385", "#B5B6DA", "#EFEFEF", "#F0C8BC", "#D0623F", "#8F2410"] } }
    ],
    graphic,
    series: [
      gray(abundanceGray, 0),
      colored(abundanceDown, abundanceDownLabeled, C.purple, 0),
      colored(abundanceUp, abundanceUpLabeled, C.teal, 0),
      gray(supernatantGray, 1),
      colored(supernatantMore, supernatantMoreLabeled, C.navy, 1),
      colored(supernatantLess, supernatantLessLabeled, C.red, 1),
      gray(pelletGray, 2),
      colored(pelletLess, pelletLessLabeled, C.navy, 2),
      colored(pelletMore, pelletMoreLabeled, C.red, 2),
      { type: "lines", coordinateSystem: "cartesian2d", xAxisIndex: 3, yAxisIndex: 3, silent: true, z: 1,
        lineStyle: { color: "#BDBDBD", width: 0.4, opacity: 0.5 }, data: net.edges },
      { type: "scatter", xAxisIndex: 3, yAxisIndex: 3, symbolSize: 4.5, silent: true, z: 6, clip: false,
        label: nodeLabel, data: net.left },
      { type: "scatter", xAxisIndex: 3, yAxisIndex: 3, symbolSize: 4.5, silent: true, z: 6, clip: false,
        label: nodeLabel, data: net.right }
    ]
  };
}

export default function App() {
  const ref = useRef<HTMLDivElement>(null);
  useEffect(() => {
    if (!ref.current) return;
    const chart = echarts.init(ref.current, null, { renderer: "svg" });
    chart.setOption(buildOption() as any);
    return () => chart.dispose();
  }, []);
  return <div ref={ref} style={{ position: "absolute", left: 0, top: 0, width: 757, height: 621, background: "#fff" }} />;
}
